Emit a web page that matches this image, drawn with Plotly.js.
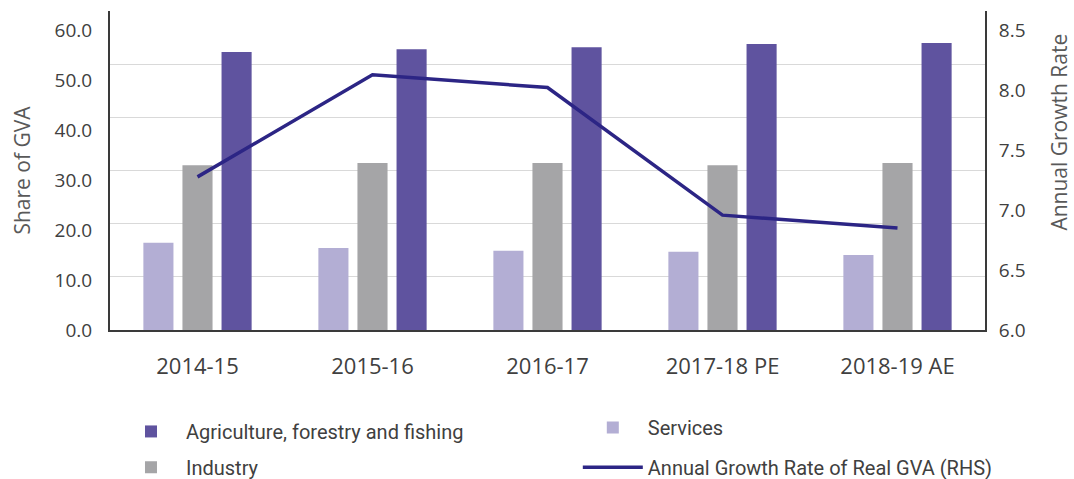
<!DOCTYPE html>
<html>
<head>
<meta charset="utf-8">
<script src="https://cdn.plot.ly/plotly-3.0.1.min.js"></script>
<style>html,body{margin:0;padding:0;background:#fff;}#chart{width:1074px;height:479px;}</style>
</head>
<body>
<div id="chart"></div>
<script>
const categories = ["2014-15", "2015-16", "2016-17", "2017-18 PE", "2018-19 AE"];
const services = [16.4, 15.4, 14.9, 14.7, 14.1];
const industry = [31.0, 31.4, 31.4, 31.0, 31.4];
const agriculture = [52.3, 52.8, 53.2, 53.8, 54.0];
const growthRate = [7.2, 8.0, 7.9, 6.9, 6.8];
const leftTickLabels = ["0.0", "10.0", "20.0", "30.0", "40.0", "50.0", "60.0"];
const rightTickLabels = ["6.0", "6.5", "7.0", "7.5", "8.0", "8.5"];

const TEXT = "#404040";
const tickFont = {family: "Open Sans, sans-serif", size: 19, color: TEXT};
const legendFont = {family: "Roboto, Open Sans, sans-serif", size: 20, color: TEXT};

const traces = [
  {type: "bar", name: "Services", x: categories, y: services, marker: {color: "#b3aed4"},
   legend: "legend2", hoverinfo: "x+y"},
  {type: "bar", name: "Industry", x: categories, y: industry, marker: {color: "#a5a5a7"},
   legend: "legend3", hoverinfo: "x+y"},
  {type: "bar", name: "Agriculture, forestry and fishing", x: categories, y: agriculture, marker: {color: "#5f539f"},
   legend: "legend", hoverinfo: "x+y"},
  {type: "scatter", mode: "lines", name: "Annual Growth Rate of Real GVA (RHS)", x: categories, y: growthRate, yaxis: "y2",
   line: {color: "#2c2585", width: 3.5}, legend: "legend4"},
  {type: "scatter", mode: "none", x: [], y: [], yaxis: "y3", showlegend: false, hoverinfo: "skip"},
  {type: "scatter", mode: "none", x: [], y: [], yaxis: "y4", showlegend: false, hoverinfo: "skip"}
];

const leftVals = leftTickLabels.map(Number);
const rightVals = rightTickLabels.map(Number);

const legendCommon = {
  orientation: "h", xref: "container", yref: "container", xanchor: "left", yanchor: "top",
  font: legendFont, itemwidth: 60, bgcolor: "rgba(0,0,0,0)"
};

const layout = {
  width: 1074, height: 479,
  margin: {l: 110, r: 89, t: 11, b: 149},
  paper_bgcolor: "#ffffff", plot_bgcolor: "#ffffff",
  barmode: "group", bargap: 0.33, bargroupgap: 0.23,
  showlegend: true,
  legend: Object.assign({}, legendCommon, {x: 0.108, y: 0.14}),
  legend2: Object.assign({}, legendCommon, {x: 0.538, y: 0.148}),
  legend3: Object.assign({}, legendCommon, {x: 0.108, y: 0.065}),
  legend4: Object.assign({}, legendCommon, {x: 0.538, y: 0.065}),
  xaxis: {
    type: "category", showgrid: false, zeroline: false,
    showline: true, linecolor: "#3a3a3a", linewidth: 1.5,
    ticks: "outside", ticklen: 16, tickcolor: "rgba(0,0,0,0)",
    tickfont: {family: "Open Sans, sans-serif", size: 22, color: TEXT}
  },
  yaxis: {
    range: [0, 60], dtick: 10, showgrid: true, gridcolor: "#d9d9d9", gridwidth: 1,
    zeroline: false, showticklabels: false, ticks: "",
    showline: true, linecolor: "#3a3a3a", linewidth: 1.5
  },
  yaxis2: {
    overlaying: "y", side: "right", range: [6, 8.5], showgrid: false, zeroline: false,
    showticklabels: false, ticks: "", showline: true, linecolor: "#3a3a3a", linewidth: 1.5
  },
  yaxis3: {
    overlaying: "y", side: "left", range: [0, 63.8], showgrid: false, zeroline: false,
    tickmode: "array", tickvals: leftVals, ticktext: leftTickLabels,
    ticks: "outside", ticklen: 13, tickcolor: "rgba(0,0,0,0)", tickfont: tickFont,
    showline: false,
    title: {text: "Share of GVA", font: {family: "Open Sans, sans-serif", size: 21, color: "#595959"}, standoff: 18}
  },
  yaxis4: {
    overlaying: "y", side: "right", range: [6, 8.658], showgrid: false, zeroline: false,
    tickmode: "array", tickvals: rightVals, ticktext: rightTickLabels,
    ticks: "outside", ticklen: 9, tickcolor: "rgba(0,0,0,0)", tickfont: tickFont,
    showline: false
  },
  annotations: [{
    text: "Annual Growth Rate", xref: "paper", yref: "paper", x: 1.085, y: 0.62,
    xanchor: "center", yanchor: "middle", textangle: -90, showarrow: false,
    font: {family: "Open Sans, sans-serif", size: 21, color: "#595959"}
  }]
};

Plotly.newPlot("chart", traces, layout, {displayModeBar: false, responsive: false});
</script>
</body>
</html>
